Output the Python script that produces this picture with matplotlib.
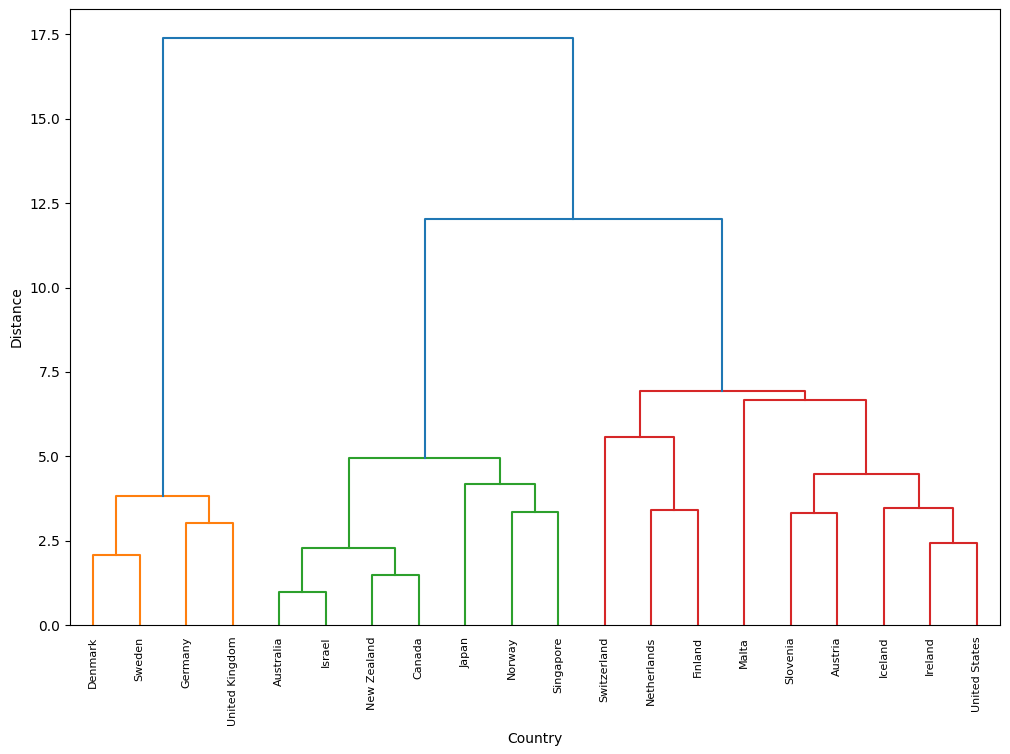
import matplotlib
matplotlib.use('Agg')
import matplotlib.pyplot as plt

# leaves in dendrogram order
countries = ['Denmark', 'Sweden', 'Germany', 'United Kingdom', 'Australia', 'Israel',
             'New Zealand', 'Canada', 'Japan', 'Norway', 'Singapore', 'Switzerland',
             'Netherlands', 'Finland', 'Malta', 'Slovenia', 'Austria', 'Iceland',
             'Ireland', 'United States']

# linkage-like merges: node ids < 20 are leaves, id 20+k is the k-th merge
merge_left = [4, 6, 0, 2, 20, 18, 15, 9, 12, 17, 22, 8, 26, 11, 24, 14, 33, 34, 30]
merge_right = [5, 7, 1, 3, 21, 19, 16, 10, 13, 25, 23, 27, 29, 28, 31, 32, 35, 36, 37]
merge_height = [0.98, 1.48, 2.07, 3.02, 2.28, 2.43, 3.32, 3.35, 3.41, 3.46,
                3.82, 4.18, 4.47, 5.57, 4.95, 6.66, 6.93, 12.02, 17.38]
merge_color = ['C2', 'C2', 'C1', 'C1', 'C2', 'C3', 'C3', 'C2', 'C3', 'C3',
               'C1', 'C2', 'C3', 'C3', 'C2', 'C3', 'C3', 'C0', 'C0']

n = len(countries)
xpos = {i: 5 + 10 * i for i in range(n)}
ypos = {i: 0.0 for i in range(n)}

fig = plt.figure(figsize=(10.1, 7.54), dpi=100)
ax = fig.add_axes([0.0693, 0.171, 0.9207, 0.817])

for k, (a, b, h, c) in enumerate(zip(merge_left, merge_right, merge_height, merge_color)):
    xa, xb = xpos[a], xpos[b]
    ax.plot([xa, xa, xb, xb], [ypos[a], h, h, ypos[b]], color=c, lw=1.5)
    xpos[n + k] = (xa + xb) / 2
    ypos[n + k] = h

ax.set_xlim(0, 10 * n)
ax.set_ylim(0, max(merge_height) * 1.05)
ax.set_xticks([5 + 10 * i for i in range(n)])
ax.set_xticklabels(countries, rotation=90, fontsize=8)
ax.tick_params(axis='x', length=0, pad=8.4)
ax.set_xlabel('Country')
ax.set_ylabel('Distance')

plt.savefig('out.png', dpi=100)
plt.close()
